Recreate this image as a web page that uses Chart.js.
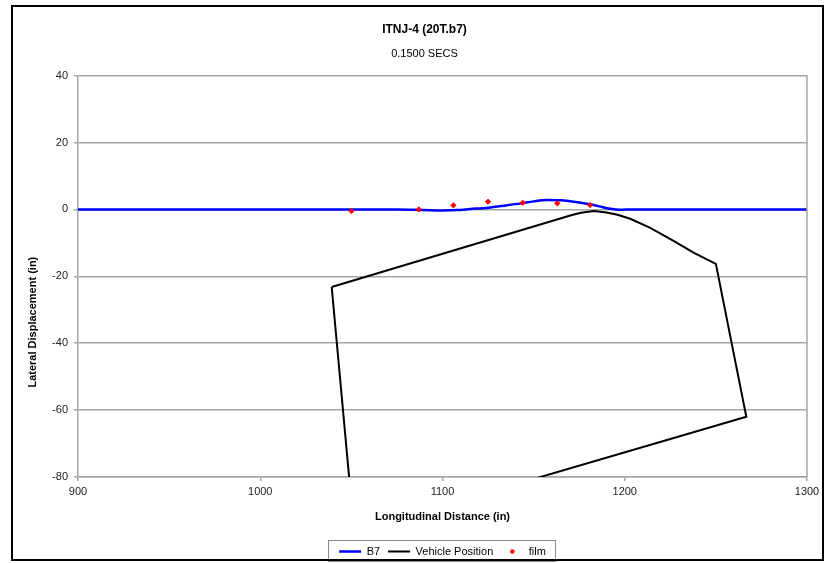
<!DOCTYPE html>
<html><head><meta charset="utf-8">
<script src="https://cdn.jsdelivr.net/npm/chart.js@4"></script>
<style>html,body{margin:0;padding:0;background:#fff}</style>
</head><body>
<canvas id="c" width="834" height="563"></canvas>
<script>
// ---- data ----
const titleText = 'ITNJ-4 (20T.b7)';
const subtitleText = '0.1500 SECS';
const xAxisTitle = 'Longitudinal Distance (in)';
const yAxisTitle = 'Lateral Displacement (in)';
const seriesNames = ['B7', 'Vehicle Position', 'film'];
const xTicks = [900, 1000, 1100, 1200, 1300];
const yTicks = [-80, -60, -40, -20, 0, 20, 40];

const b7X = [900, 950, 1000, 1050, 1075, 1090, 1100, 1108, 1115, 1125, 1135, 1143, 1150, 1157, 1165, 1172, 1180, 1186, 1192, 1197, 1205, 1250, 1300];
const b7Y = [0, 0, 0, 0, 0, -0.2, -0.3, -0.2, 0.1, 0.5, 1.2, 1.8, 2.4, 2.8, 2.7, 2.3, 1.6, 0.9, 0.2, -0.1, 0, 0, 0];

const vehX = [1039.2, 1051.5, 1266.7, 1250, 1238, 1227, 1214, 1203, 1196, 1190, 1183, 1176, 1171, 1039.2];
const vehY = [-23.2, -96.3, -62, -16.3, -13, -9.5, -5.5, -2.8, -1.6, -0.9, -0.5, -1.0, -1.7, -23.2];

const filmX = [1050, 1087, 1106, 1125, 1144, 1163, 1181];
const filmY = [-0.5, 0, 1.2, 2.3, 2.0, 1.8, 1.3];

const pts = (xs, ys) => xs.map((x, i) => ({x: x, y: ys[i]}));

Chart.defaults.font.family = '"Liberation Sans", Arial, sans-serif';
Chart.defaults.color = '#000';

const GRID = '#a6a6a6';

// small red dot used as the legend marker of the "film" series
const dot = document.createElement('canvas');
dot.width = 7; dot.height = 7;
(function () {
  const g = dot.getContext('2d');
  g.fillStyle = '#ff0000';
  g.beginPath(); g.arc(3.5, 3.5, 2.2, 0, Math.PI * 2); g.fill();
})();

const decor = {
  id: 'decor',
  afterDraw(chart) {
    const ctx = chart.ctx, a = chart.chartArea;
    ctx.save();
    // right border of plot area
    ctx.strokeStyle = GRID; ctx.lineWidth = 1.5;
    ctx.beginPath(); ctx.moveTo(a.right, a.top); ctx.lineTo(a.right, a.bottom); ctx.stroke();
    // y axis title (placed as in the reference, below plot centre)
    const ys = chart.scales.y;
    ctx.fillStyle = '#000';
    ctx.font = 'bold 11px "Liberation Sans", Arial, sans-serif';
    ctx.textAlign = 'center'; ctx.textBaseline = 'middle';
    ctx.translate(33, ys.getPixelForValue(-33.7));
    ctx.rotate(-Math.PI / 2);
    ctx.fillText(yAxisTitle, 0, 0);
    ctx.setTransform(1, 0, 0, 1, 0, 0);
    // legend box
    const hb = chart.legend.legendHitBoxes;
    if (hb && hb.length) {
      let l = Infinity, r = -Infinity;
      hb.forEach(h => { l = Math.min(l, h.left); r = Math.max(r, h.left + h.width); });
      const cy = hb[0].top + hb[0].height / 2;
      ctx.strokeStyle = '#888'; ctx.lineWidth = 1;
      ctx.strokeRect(Math.round(l - 11) + 0.5, Math.round(cy - 12) + 0.5, Math.round(r - l + 20), 21);
    }
    // outer frame
    ctx.strokeStyle = '#000'; ctx.lineWidth = 2;
    ctx.strokeRect(12, 6, 811, 554);
    ctx.restore();
  }
};

new Chart(document.getElementById('c'), {
  type: 'scatter',
  data: {
    datasets: [
      { label: seriesNames[0], data: pts(b7X, b7Y), showLine: true, borderColor: '#0000ff', borderWidth: 2.5,
        pointRadius: 0, pointStyle: 'line', pointBorderColor: '#0000ff', pointBorderWidth: 2.5,
        tension: 0.4, cubicInterpolationMode: 'monotone', order: 1 },
      { label: seriesNames[1], data: pts(vehX, vehY), showLine: true, borderColor: '#000', borderWidth: 2,
        pointRadius: 0, pointStyle: 'line', pointBorderColor: '#000', pointBorderWidth: 2, tension: 0, order: 2 },
      { label: seriesNames[2], data: pts(filmX, filmY), showLine: false, pointStyle: 'rectRot',
        pointRadius: 2.6, backgroundColor: '#ff0000', borderColor: '#ff0000', pointBorderWidth: 1, order: 0 }
    ]
  },
  options: {
    responsive: false,
    animation: false,
    devicePixelRatio: 1,
    layout: { padding: { left: 42, right: 27, top: 8, bottom: -4 } },
    plugins: {
      title: { display: true, text: titleText, font: { size: 12, weight: 'bold' }, padding: { top: 14, bottom: 4 } },
      subtitle: { display: true, text: subtitleText, font: { size: 11 }, padding: { top: 7, bottom: 15 } },
      legend: {
        position: 'bottom', fullSize: false,
        labels: {
          usePointStyle: true, pointStyleWidth: 22, boxHeight: 4, padding: 8,
          font: { size: 11 }, color: '#000',
          sort: (a, b) => a.datasetIndex - b.datasetIndex,
          generateLabels(chart) {
            const items = Chart.defaults.plugins.legend.labels.generateLabels(chart);
            items.forEach(it => { if (it.datasetIndex === 2) it.pointStyle = dot; });
            return items;
          }
        }
      },
      tooltip: { enabled: false }
    },
    scales: {
      x: {
        type: 'linear', min: 900, max: 1300,
        afterBuildTicks: s => { s.ticks = xTicks.map(v => ({ value: v })); },
        afterFit: s => { s.height = 61; },
        grid: { drawOnChartArea: false, drawTicks: true, tickLength: 4, color: GRID, lineWidth: 1.5 },
        border: { color: GRID, width: 1.5 },
        ticks: { padding: 4, font: { size: 11 }, color: '#222', maxRotation: 0, callback: v => String(v) },
        title: { display: true, text: xAxisTitle, font: { size: 11, weight: 'bold' }, padding: { top: 0, bottom: 14 } }
      },
      y: {
        type: 'linear', min: -80, max: 40,
        afterBuildTicks: s => { s.ticks = yTicks.map(v => ({ value: v })); },
        afterFit: s => { s.width = 36; },
        grid: { drawOnChartArea: true, drawTicks: true, tickLength: 4, color: GRID, lineWidth: 1.5 },
        border: { color: GRID, width: 1.5 },
        ticks: { padding: 6, font: { size: 11 }, color: '#222', callback: v => String(v) },
        title: { display: false }
      }
    }
  },
  plugins: [decor]
});
</script>
</body></html>
